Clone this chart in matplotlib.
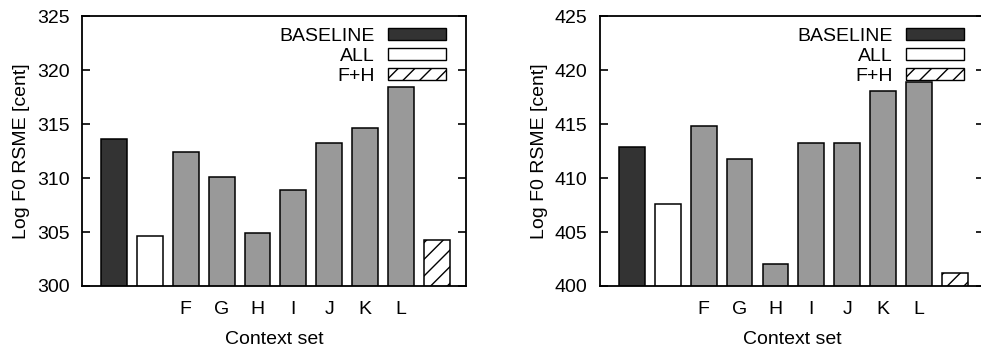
import matplotlib
matplotlib.use('Agg')
import matplotlib.pyplot as plt
from matplotlib.patches import Patch

#================================================================================
#   DATA
#================================================================================
tick_labels = ['', '', 'F', 'G', 'H', 'I', 'J', 'K', 'L', '']
left_values = [313.6, 304.6, 312.4, 310.1, 304.9, 308.9, 313.2, 314.6, 318.4, 304.3]
right_values = [412.9, 407.6, 414.8, 411.8, 402.0, 413.2, 413.2, 418.1, 418.9, 401.2]
left_range = (300, 325)
right_range = (400, 425)
legend_names = ['BASELINE', 'ALL', 'F+H']

#================================================================================
#   Style
#================================================================================
plt.rcParams['font.family'] = ['Liberation Sans', 'DejaVu Sans']
plt.rcParams['font.size'] = 14
plt.rcParams['hatch.linewidth'] = 1.0

DARK = '#333333'
GRAY = '#999999'
HATCH = '//'
faces = [DARK, 'white'] + [GRAY] * 7 + ['white']
hatches = [None] * 9 + [HATCH]


def draw_panel(ax, values, yrange):
    x = list(range(len(values)))
    bars = ax.bar(x, values, width=0.72, bottom=0, color=faces,
                  edgecolor='black', linewidth=1.1)
    for b, h in zip(bars, hatches):
        if h:
            b.set_hatch(h)
    ax.set_ylim(*yrange)
    ax.set_xlim(-0.89, 9.81)
    ax.set_yticks(range(yrange[0], yrange[1] + 1, 5))
    ax.set_xticks(x)
    ax.set_xticklabels(tick_labels)
    ax.tick_params(axis='x', length=0, pad=11)
    ax.tick_params(axis='y', direction='in', length=6, width=1.2,
                   left=True, right=True, pad=9)
    for s in ax.spines.values():
        s.set_linewidth(1.3)
    ax.set_xlabel('Context set', labelpad=9)
    ax.set_ylabel('Log F0 RSME [cent]', labelpad=5)

    handles = [Patch(facecolor=DARK, edgecolor='black', linewidth=1.0),
               Patch(facecolor='white', edgecolor='black', linewidth=1.0),
               Patch(facecolor='white', edgecolor='black', linewidth=1.0, hatch=HATCH)]
    ax.legend(handles, legend_names, loc='upper right',
              bbox_to_anchor=(0.948, 0.955), frameon=False,
              markerfirst=False, handlelength=3.0, handleheight=0.55,
              handletextpad=0.65, labelspacing=0.15, borderpad=0,
              borderaxespad=0)


fig = plt.figure(figsize=(9.81, 3.47), dpi=100)
ax_left = fig.add_axes([0.0836, 0.1758, 0.3914, 0.778])
ax_right = fig.add_axes([0.6116, 0.1758, 0.3914, 0.778])

draw_panel(ax_left, left_values, left_range)
draw_panel(ax_right, right_values, right_range)

fig.savefig('out.png', dpi=100)
